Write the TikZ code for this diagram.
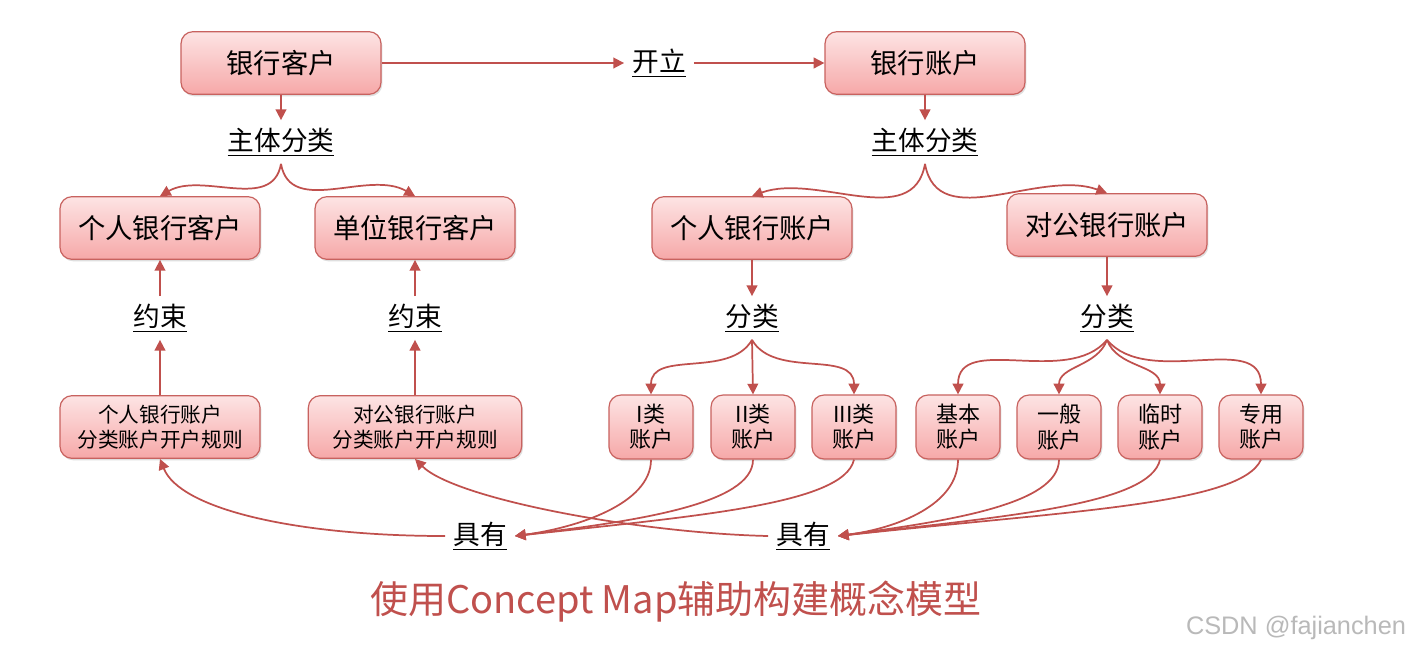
\documentclass[tikz,border=0pt]{standalone}
\usepackage{fontspec}
\setmainfont{Noto Sans CJK SC}
\newfontfamily\wmfont{Liberation Sans}
\usetikzlibrary{arrows.meta,shadows}
\definecolor{mapred}{HTML}{C0504D}
\definecolor{boxtop}{HTML}{FDE4E4}
\definecolor{boxbot}{HTML}{F6A8A8}
\definecolor{boxline}{HTML}{C8625F}

\begin{document}
\begin{tikzpicture}
  [x=0.75pt,y=-0.75pt,
   box/.style={rectangle,rounded corners=9pt,draw=boxline,line width=0.9pt,
     top color=boxtop,bottom color=boxbot,minimum width=150pt,minimum height=47pt,
     font=\fontsize{20.5}{23}\selectfont,
     drop shadow={opacity=0.25,shadow xshift=1pt,shadow yshift=-1.5pt}},
   rulebox/.style={box,font=\fontsize{15.5}{18.5}\selectfont,align=center},
   smallbox/.style={rulebox,font=\fontsize{16.5}{19}\selectfont,minimum width=63pt,minimum height=48pt},
   link/.style={font=\fontsize{20}{23}\selectfont,inner sep=6pt},
   arr/.style={draw=mapred,line width=1.3pt,-{Triangle[length=8pt,width=8pt]}}]
  \useasboundingbox[fill=white] (0,0) rectangle (1412,654);

  \node[box] (kehu) at (281,63) {银行客户};
  \node[link] (kaili) at (659,63) {\underline{开立}};
  \node[box] (zhanghu) at (925,63) {银行账户};
  \node[link] (zt1) at (281,142) {\underline{主体分类}};
  \node[link] (zt2) at (925,142) {\underline{主体分类}};

  \node[box] (grkh) at (160,228) {个人银行客户};
  \node[box] (dwkh) at (415,228) {单位银行客户};
  \node[box] (grzh) at (752,228) {个人银行账户};
  \node[box] (dgzh) at (1107,225) {对公银行账户};

  \node[link] (ys1) at (160,318) {\underline{约束}};
  \node[link] (ys2) at (415,318) {\underline{约束}};
  \node[link] (fl1) at (752,318) {\underline{分类}};
  \node[link] (fl2) at (1107,318) {\underline{分类}};

  \node[rulebox] (gz1) at (160,427) {个人银行账户\\分类账户开户规则};
  \node[rulebox,minimum width=160pt] (gz2) at (415,427) {对公银行账户\\分类账户开户规则};
  \foreach \n/\x/\t in {lei1/651/I类, lei2/753/II类, lei3/854/III类,
                        jb/958/基本, yb/1059/一般, ls/1160/临时, zy/1261/专用}
    \node[smallbox] (\n) at (\x,427) {\t\\账户};

  \node[link] (jy1) at (480,536) {\underline{具有}};
  \node[link] (jy2) at (803,536) {\underline{具有}};

  \draw[arr] (kehu) -- (kaili);
  \draw[arr] (kaili) -- (zhanghu);
  \draw[arr] (kehu) -- (zt1);
  \draw[arr] (zhanghu) -- (zt2);
  \draw[arr] (zt1.south) to[out=-100,in=30] (grkh.north);
  \draw[arr] (zt1.south) to[out=-80,in=150] (dwkh.north);
  \draw[arr] (zt2.south) to[out=-100,in=20] (grzh.north);
  \draw[arr] (zt2.south) to[out=-80,in=160] (dgzh.north);

  \draw[arr] (ys1) -- (grkh);
  \draw[arr] (ys2) -- (dwkh);
  \draw[arr] (gz1) -- (ys1);
  \draw[arr] (gz2) -- (ys2);
  \draw[arr] (grzh) -- (fl1);
  \draw[arr] (dgzh) -- (fl2);

  \draw[arr] (fl1.south) to[out=-120,in=90] (lei1.north);
  \draw[arr] (fl1.south) -- (lei2.north);
  \draw[arr] (fl1.south) to[out=-60,in=90] (lei3.north);
  \draw[arr] (fl2.south) to[out=-130,in=90] (jb.north);
  \draw[arr] (fl2.south) to[out=-110,in=90] (yb.north);
  \draw[arr] (fl2.south) to[out=-70,in=90] (ls.north);
  \draw[arr] (fl2.south) to[out=-50,in=90] (zy.north);

  % bottom links, control offsets in pixels (y runs down)
  \foreach \n/\dx/\cx/\cy in {lei1/0/60/-8, lei2/0/120/-15, lei3/-10/180/-20}
    \draw[arr] (\n.south) .. controls +(\dx,45) and +(\cx,\cy) .. (jy1.east);
  \foreach \n/\dx/\cx/\cy in {jb/0/60/-8, yb/0/110/-15, ls/-10/170/-20, zy/-20/230/-25}
    \draw[arr] (\n.south) .. controls +(\dx,45) and +(\cx,\cy) .. (jy2.east);
  \draw[arr] (jy1.west) .. controls +(-150,0) and +(20,50) .. (gz1.south);
  \draw[arr] (jy2.west) .. controls +(-130,-3) and +(40,40) .. (gz2.south);

  \node[font=\fontsize{28.5}{32}\selectfont,text=mapred] (title) at (676,602)
    {使用Concept Map辅助构建概念模型};
  \node[font=\wmfont\fontsize{19}{22}\selectfont,text=gray!55] (wm) at (1296,628)
    {CSDN @fajianchen};
\end{tikzpicture}
\end{document}
